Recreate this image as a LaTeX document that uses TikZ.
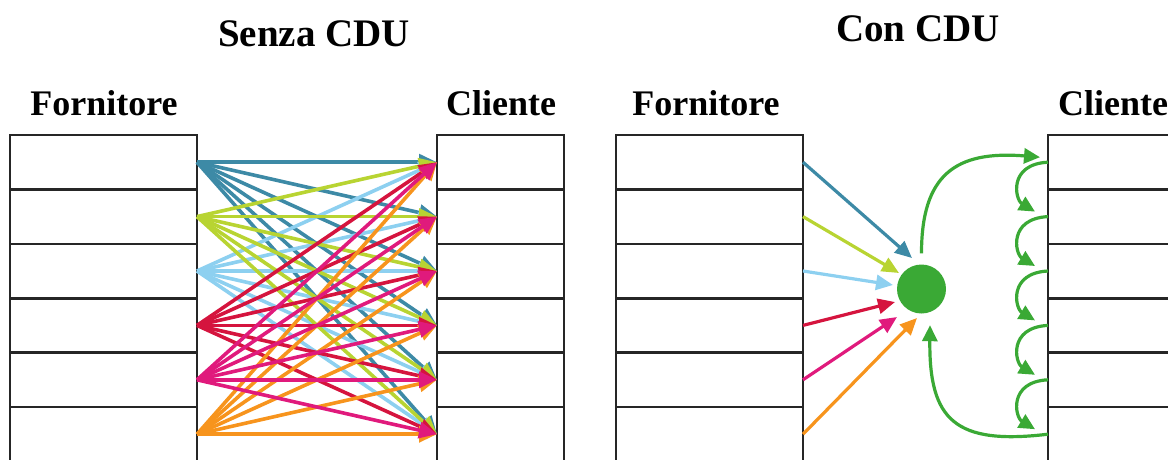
\documentclass[tikz,border=0pt]{standalone}
\usepackage{fontspec}
\setmainfont{Liberation Serif}
\usetikzlibrary{arrows.meta}
\definecolor{cTeal}{HTML}{3D8AA6}
\definecolor{cYel}{HTML}{B8D432}
\definecolor{cLBlue}{HTML}{8DD0F0}
\definecolor{cRed}{HTML}{D5143E}
\definecolor{cMag}{HTML}{E01A7C}
\definecolor{cOra}{HTML}{F7941D}
\definecolor{cGreen}{HTML}{3AA935}
\begin{document}
\begin{tikzpicture}[x=1pt,y=-1pt,
  cell/.style={draw=black!85, line width=2.6pt, rectangle, inner sep=0pt, outer sep=0pt, minimum height=54.4pt},
  wide/.style={cell, minimum width=187pt},
  narrow/.style={cell, minimum width=127pt},
  ttl/.style={font=\fontsize{39}{44}\selectfont\bfseries, anchor=base, inner sep=0pt},
  hdr/.style={font=\fontsize{36}{40}\selectfont\bfseries, anchor=base, inner sep=0pt},
  arr/.style={line width=3.6pt, -{Triangle[length=18pt,width=16pt]}},
  rarr/.style={line width=3.2pt, -{Triangle[length=17pt,width=15pt]}},
  garr/.style={draw=cGreen, line width=3.2pt, -{Triangle[length=16pt,width=15pt]}}
]
\useasboundingbox (0,0) rectangle (1168,459);
\clip (0,0) rectangle (1168,459);

% titles and headers
\node[ttl] (t1) at (314,46) {Senza CDU};
\node[ttl] (t2) at (918,41) {Con CDU};
\node[hdr] (h1) at (104,115) {Fornitore};
\node[hdr] (h2) at (501,115) {Cliente};
\node[hdr] (h3) at (706,115) {Fornitore};
\node[hdr, anchor=base west] (h4) at (1058,115) {Cliente};

% boxes
\foreach \i in {1,...,6} {
  \node[wide] (LF-\i) at (103.5, 107.8+54.4*\i) {};
  \node[narrow] (LC-\i) at (500.5, 107.8+54.4*\i) {};
  \node[wide] (RF-\i) at (709.5, 107.8+54.4*\i) {};
  \node[cell, minimum width=132pt] (RC-\i) at (1114, 107.8+54.4*\i) {};
}

% left: every supplier to every client
\foreach \j in {1,...,6} \draw[arr, cTeal] (LF-1.east) -- (LC-\j.west);
\foreach \j in {1,...,6} \draw[arr, cLBlue] (LF-3.east) -- (LC-\j.west);
\foreach \j in {1,...,6} \draw[arr, cYel] (LF-2.east) -- (LC-\j.west);
\foreach \j in {1,...,6} \draw[arr, cRed] (LF-4.east) -- (LC-\j.west);
\foreach \j in {1,...,6} \draw[arr, cOra] (LF-6.east) -- (LC-\j.west);
\foreach \j in {1,...,6} \draw[arr, cMag] (LF-5.east) -- (LC-\j.west);

% right: CDU
\node[circle, fill=cGreen, minimum size=49pt, inner sep=0pt] (cdu) at (921.5,289) {};
\coordinate (e1) at (912,258);
\coordinate (e2) at (899,273);
\coordinate (e3) at (893,285);
\coordinate (e4) at (895,302);
\coordinate (e5) at (897,317);
\coordinate (e6) at (917,318);
\draw[rarr, cTeal] (RF-1.east) -- (e1);
\draw[rarr, cYel] (RF-2.east) -- (e2);
\draw[rarr, cLBlue] (RF-3.east) -- (e3);
\draw[rarr, cRed] (RF-4.east) -- (e4);
\draw[rarr, cMag] (RF-5.east) -- (e5);
\draw[rarr, cOra] (RF-6.east) -- (e6);

% green distribution arcs
\draw[garr] ([yshift=11pt]cdu.north) .. controls +(0,-78) and +(-85,-7) .. ([xshift=-8pt,yshift=5pt]RC-1.west);
\draw[garr] (RC-6.west) .. controls +(-93,11) and +(-1,95) .. ([xshift=8.5pt,yshift=-11.5pt]cdu.south);
\foreach \i in {1,...,5} {
  \pgfmathtruncatemacro{\j}{\i+1}
  \draw[garr] (RC-\i.west) .. controls +(-40,2) and +(-20,-12) .. ([xshift=-13pt,yshift=5pt]RC-\j.west);
}
\end{tikzpicture}
\end{document}
